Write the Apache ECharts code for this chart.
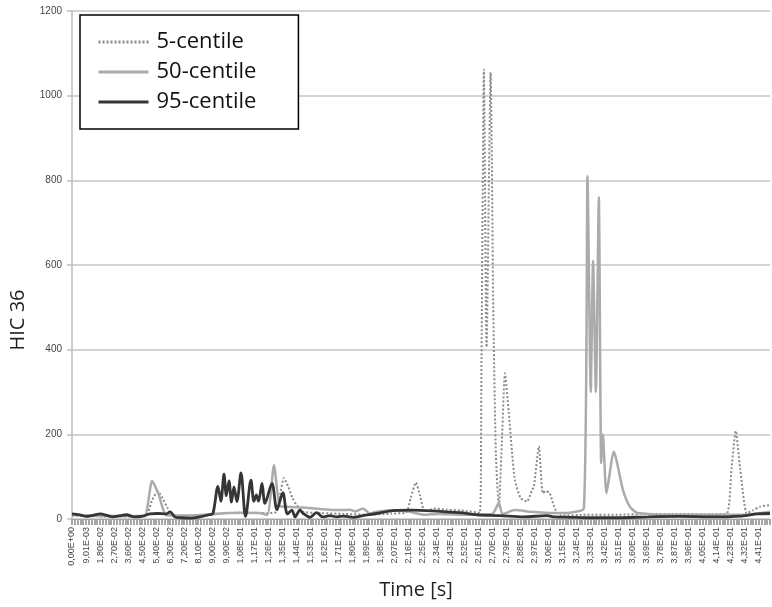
<!DOCTYPE html>
<html>
<head>
<meta charset="utf-8">
<script src="https://cdn.jsdelivr.net/npm/echarts@6/dist/echarts.min.js"></script>
<style>
html,body{margin:0;padding:0;background:#fff;}
#chart{width:772px;height:607px;}
</style>
</head>
<body>
<div id="chart"></div>
<script>
// Tick labels of the time axis (one every 0.009 s)
var tickLabels = ["0,00E+00","9,01E-03","1,80E-02","2,70E-02","3,60E-02","4,50E-02","5,40E-02","6,30E-02","7,20E-02","8,10E-02",
  "9,00E-02","9,90E-02","1,08E-01","1,17E-01","1,26E-01","1,35E-01","1,44E-01","1,53E-01","1,62E-01","1,71E-01",
  "1,80E-01","1,89E-01","1,98E-01","2,07E-01","2,16E-01","2,25E-01","2,34E-01","2,43E-01","2,52E-01","2,61E-01",
  "2,70E-01","2,79E-01","2,88E-01","2,97E-01","3,06E-01","3,15E-01","3,24E-01","3,33E-01","3,42E-01","3,51E-01",
  "3,60E-01","3,69E-01","3,78E-01","3,87E-01","3,96E-01","4,05E-01","4,14E-01","4,23E-01","4,32E-01","4,41E-01"];
var seriesNames = ["5-centile","50-centile","95-centile"];

// 5-centile
var t5 = [0,0.01,0.02,0.03,0.04,
  0.0475,0.0515,0.055,0.058,0.0615,0.0646,
  0.075,0.09,0.1,0.115,0.125,
  0.1314,0.1335,0.1361,0.139,0.1415,0.1442,0.1485,
  0.16,0.175,0.19,0.205,
  0.2145,0.2175,0.2208,0.2235,0.2266,
  0.233,0.24,0.25,0.2619,
  0.2628,0.2645,0.2662,0.2688,0.2705,0.2722,0.2741,
  0.2762,0.278,0.2805,0.2825,0.2844,0.288,0.2921,
  0.2953,0.2966,0.2998,0.3023,0.3043,0.3068,0.3088,0.3113,0.314,
  0.33,0.35,0.37,0.39,0.41,0.4205,
  0.4235,0.4262,0.429,0.4333,0.437,0.4417,0.4482];
var v5 = [8,7,6,6,6,
  7,45,65,50,25,8,
  8,10,14,15,14,
  17,55,97,75,50,33,17,
  14,12,10,13,
  15,50,86,55,17,
  25,22,20,15,
  300,1062,406,1055,500,150,30,
  200,344,250,160,92,50,41,
  68,76,172,61,66,61,38,15,8,
  10,10,12,12,11,13,
  120,208,120,13,20,29,33];

// 50-centile
var t50 = [0,0.01,0.02,0.03,0.04,0.0469,
  0.0514,0.0555,0.0603,
  0.07,0.08,0.09,0.1,0.11,0.12,0.1254,
  0.1297,0.1335,0.1383,0.1485,
  0.16,0.172,0.1785,0.182,0.1868,0.1913,0.1958,0.205,0.215,0.2266,
  0.235,0.25,0.26,0.27,0.2741,0.2765,0.2844,0.295,0.3088,0.3197,0.3287,
  0.3310,0.3331,0.3346,0.3364,0.3383,0.3398,0.3409,0.3432,
  0.3479,0.3538,0.3582,0.3625,0.37,0.38,0.4,0.42,0.4333,0.44,0.4482];
var v50 = [10,8,7,7,7,8,
  90,60,10,
  8,9,12,14,15,14,10,
  127,30,29,27,
  23,21,22,18,25,13,17,20,18,10,
  12,10,10,12,38,12,21,17,14,15,25,
  810,300,610,300,760,132,200,61,
  159,68,29,15,12,10,10,10,10,13,17];

// 95-centile
var t95 = [0,0.005,0.009,0.014,0.018,0.023,0.026,0.031,0.035,0.04,0.0455,0.05,0.055,0.0603,0.063,0.066,0.07,0.076,0.082,0.088,
  0.0905,0.0937,0.0956,0.0976,0.0991,0.1008,0.1024,0.104,0.1059,0.1085,0.1107,0.1114,
  0.1149,0.1168,0.1184,0.1198,0.122,0.1239,0.1284,0.1316,0.1354,0.1383,0.1412,0.1432,0.1464,0.1485,
  0.1528,0.157,0.161,0.1656,0.17,0.1742,0.1806,0.1868,0.1956,0.2061,0.219,0.2277,0.249,0.26,0.275,0.29,
  0.305,0.31,0.32,0.33,0.35,0.37,0.39,0.41,0.43,0.44,0.4482];
var v95 = [12,10,6,9,12,8,5,8,10,5,7,12,13,12,17,5,3,2,5,10,
  13,77,42,106,55,90,40,76,41,109,20,6,
  92,42,57,42,84,37,84,22,62,12,21,5,21,13,
  4,15,5,8,5,7,4,8,13,20,21,20,15,10,8,5,
  8,5,4,3,3,5,6,5,7,12,13];

function pairs(t, v){ return t.map(function(x,i){ return [x, v[i]]; }); }

var chart = echarts.init(document.getElementById('chart'), null, {renderer:'canvas'});
var option = {
  backgroundColor:'#ffffff',
  animation:false,
  grid:{left:72, right:2, top:11, bottom:88, containLabel:false},
  legend:{
    data:seriesNames, orient:'vertical', left:80, top:15,
    backgroundColor:'#ffffff', borderColor:'#000000', borderWidth:1.5, borderRadius:0,
    padding:[15,42,15,17], itemWidth:50, itemHeight:14, itemGap:6,
    itemStyle:{opacity:0},
    lineStyle:{width:3},
    textStyle:{fontFamily:'Open Sans', fontSize:22, color:'#111111', lineHeight:24, padding:[0,0,0,3]}
  },
  xAxis:{
    type:'value', min:0, max:0.4482, interval:0.009,
    axisLine:{show:true, lineStyle:{color:'#a6a6a6', width:1}},
    axisTick:{show:true, length:6, lineStyle:{color:'#a6a6a6', width:2}},
    minorTick:{show:true, splitNumber:5, length:6, lineStyle:{color:'#a6a6a6', width:2}},
    splitLine:{show:false}, minorSplitLine:{show:false},
    axisLabel:{rotate:90, fontSize:9, fontFamily:'Liberation Sans', color:'#444444', margin:8, showMaxLabel:false,
      formatter:function(v){ var i=Math.round(v/0.009); return tickLabels[i] || ''; }}
  },
  yAxis:{
    type:'value', min:0, max:1200, interval:200,
    axisLine:{show:true, lineStyle:{color:'#bfbfbf', width:1.5}},
    axisTick:{show:true, length:5, lineStyle:{color:'#bfbfbf', width:1.5}},
    splitLine:{show:true, lineStyle:{color:'#c6c6c6', width:1.5}},
    axisLabel:{fontSize:10, fontFamily:'Liberation Sans', color:'#444444', margin:10,
      formatter:function(v){ return String(v); }}
  },
  graphic:[
    {type:'text', x:18, y:320, rotation:Math.PI/2,
      style:{text:'HIC 36', fontFamily:'Open Sans', fontSize:20, fill:'#222222', align:'center', verticalAlign:'middle'}},
    {type:'text', x:416, y:590,
      style:{text:'Time [s]', fontFamily:'Open Sans', fontSize:20, fill:'#222222', align:'center', verticalAlign:'middle'}}
  ],
  series:[
    {name:seriesNames[0], type:'line', data:pairs(t5,v5), symbol:'none', showSymbol:false, smooth:0.2,
      lineStyle:{color:'#8c8c8c', width:2, type:[2,2]}, itemStyle:{color:'#8c8c8c'}},
    {name:seriesNames[1], type:'line', data:pairs(t50,v50), symbol:'none', showSymbol:false, smooth:0.2,
      lineStyle:{color:'#ababab', width:2.5}, itemStyle:{color:'#ababab'}},
    {name:seriesNames[2], type:'line', data:pairs(t95,v95), symbol:'none', showSymbol:false, smooth:0.3,
      lineStyle:{color:'#353535', width:2.8}, itemStyle:{color:'#1a1a1a'}}
  ]
};
chart.setOption(option);
</script>
</body>
</html>
